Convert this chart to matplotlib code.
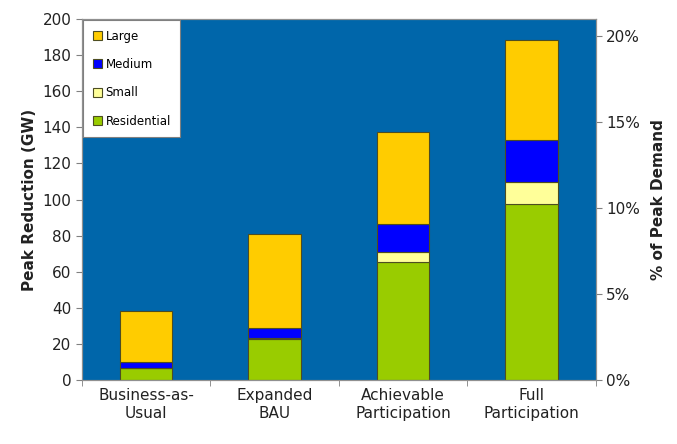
import numpy as np
import matplotlib.pyplot as plt
from matplotlib.ticker import FuncFormatter

categories = ['Business-as-\nUsual', 'Expanded\nBAU', 'Achievable\nParticipation', 'Full\nParticipation']
residential = [6.6, 22.7, 65.4, 97.5]
small = [0.3, 0.5, 5.6, 12.2]
medium = [3.1, 5.6, 15.4, 23.3]
large = [28.2, 52.2, 51.0, 55.4]

series = [('Residential', residential, '#99CC00'),
          ('Small', small, '#FFFF99'),
          ('Medium', medium, '#0000FF'),
          ('Large', large, '#FFCC00')]

fig = plt.figure(figsize=(6.77, 4.44), dpi=100)
ax = fig.add_axes([0.121, 0.144, 0.759, 0.813])
ax.set_facecolor('#0066AA')

x = np.arange(len(categories))
bottom = np.zeros(len(categories))
handles = {}
for name, vals, col in series:
    h = ax.bar(x, vals, width=0.41, bottom=bottom, color=col,
               edgecolor='#4d4d22', linewidth=0.8, label=name)
    handles[name] = h
    bottom += np.array(vals)

ax.set_xlim(-0.5, len(categories) - 0.5)
ax.set_ylim(0, 200)
ax.set_yticks(np.arange(0, 201, 20))
ax.set_xticks(x)
ax.set_xticklabels(categories, fontsize=11, color='#222222')
ax.set_xticks(np.arange(-0.5, len(categories), 1), minor=True)
ax.tick_params(axis='x', which='major', length=0, pad=6)
ax.tick_params(axis='x', which='minor', length=4, color='#808080')
ax.tick_params(axis='y', labelsize=11, color='#808080', length=4, labelcolor='#222222')
ax.set_ylabel('Peak Reduction (GW)', fontsize=11, fontweight='bold', color='#222222')
for s in ax.spines.values():
    s.set_color('#909090')

ax2 = ax.twinx()
ax2.set_ylim(0, 20.99)
ax2.set_yticks([0, 5, 10, 15, 20])
ax2.yaxis.set_major_formatter(FuncFormatter(lambda v, p: f'{v:.0f}%'))
ax2.tick_params(axis='y', labelsize=11, color='#808080', length=4, labelcolor='#222222')
ax2.set_ylabel('% of Peak Demand', fontsize=11, fontweight='bold', labelpad=8, color='#222222')
for s in ax2.spines.values():
    s.set_color('#909090')

order = ['Large', 'Medium', 'Small', 'Residential']
leg = ax.legend([handles[n] for n in order], order, loc='upper left',
                bbox_to_anchor=(0.0, 1.0), fontsize=8.5, frameon=True,
                fancybox=False, edgecolor='#808080', framealpha=1,
                handlelength=0.8, handleheight=0.8, handletextpad=0.3,
                labelspacing=1.3, borderpad=0.8, borderaxespad=0.1)
leg.get_frame().set_linewidth(0.8)

fig.savefig('out.png', dpi=100)
